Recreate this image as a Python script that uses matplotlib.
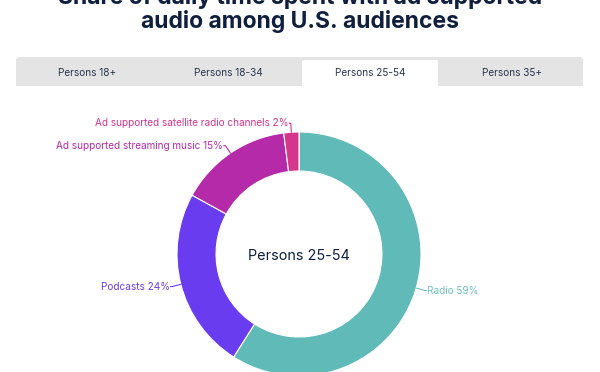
import numpy as np
import matplotlib
matplotlib.use("Agg")
import matplotlib.pyplot as plt
from matplotlib.patches import FancyBboxPatch, Rectangle

plt.rcParams['font.family'] = ['Inter', 'DejaVu Sans']

title_lines = ["Share of daily time spent with ad supported",
               "audio among U.S. audiences"]
tabs = ["Persons 18+", "Persons 18-34", "Persons 25-54", "Persons 35+"]
active_tab = "Persons 25-54"
categories = ["Radio", "Podcasts", "Ad supported streaming music",
              "Ad supported satellite radio channels"]
values = [59, 24, 15, 2]
colors = ["#5fbab8", "#6a3cf0", "#b52aa8", "#d3368a"]
label_colors = ["#6cc0be", "#6a3cf0", "#b52aa8", "#d3368a"]

W, H = 600, 372
fig = plt.figure(figsize=(W / 100, H / 100), dpi=100)
ax = fig.add_axes([0, 0, 1, 1])


def Y(py):
    return H - py


navy = "#0f1f3d"

# donut
cx, cy, r = 299, Y(254), 122
wedges, _ = ax.pie(values, colors=colors, startangle=90, counterclock=False,
                   center=(cx, cy), radius=r,
                   wedgeprops=dict(width=r * 0.32, edgecolor='white', linewidth=0.8),
                   frame=True)
ax.set_xlim(0, W)
ax.set_ylim(0, H)
ax.set_aspect('equal')
ax.axis('off')

# title
for ln, base in zip(title_lines, [4, 28]):
    ax.text(300, Y(base), ln, ha='center', va='baseline', fontsize=16.5,
            fontweight='bold', color=navy)

# tab bar
ax.add_patch(FancyBboxPatch((16, Y(86)), 567, 29, boxstyle="round,pad=0,rounding_size=3",
                            fc="#e4e4e4", ec="none"))
ax.add_patch(Rectangle((16, Y(86)), 567, 4, fc="#e4e4e4", ec="none"))
ax.add_patch(FancyBboxPatch((302, Y(87)), 136, 27, boxstyle="round,pad=0,rounding_size=2",
                            fc="white", ec="none"))
ax.add_patch(Rectangle((302, Y(88)), 136, 5, fc="white", ec="none"))
tab_w = 567 / 4
for i, t in enumerate(tabs):
    tx = 16 + tab_w * (i + 0.5)
    ax.text(tx, Y(73), t, ha='center', va='center', fontsize=7.2, color="#2a3550")

ax.text(cx, Y(256), active_tab, ha='center', va='center', fontsize=10.4, color=navy)

for w, cat, v, lc in zip(wedges, categories, values, label_colors):
    ang = np.deg2rad((w.theta1 + w.theta2) / 2)
    dx, dy = np.cos(ang), np.sin(ang)
    p0 = (cx + r * dx, cy + r * dy)
    p1 = (cx + (r + 9) * dx, cy + (r + 9) * dy)
    s = 1 if dx >= 0 else -1
    p2 = (p1[0] + s * 1.5, p1[1])
    ax.plot([p0[0], p1[0], p2[0]], [p0[1], p1[1], p2[1]], color=lc, lw=0.8)
    ax.text(p2[0] + s * 1, p2[1], f"{cat} {v}%", ha='left' if s > 0 else 'right',
            va='center', fontsize=7.2, color=lc)

fig.savefig("out.png", dpi=100)
